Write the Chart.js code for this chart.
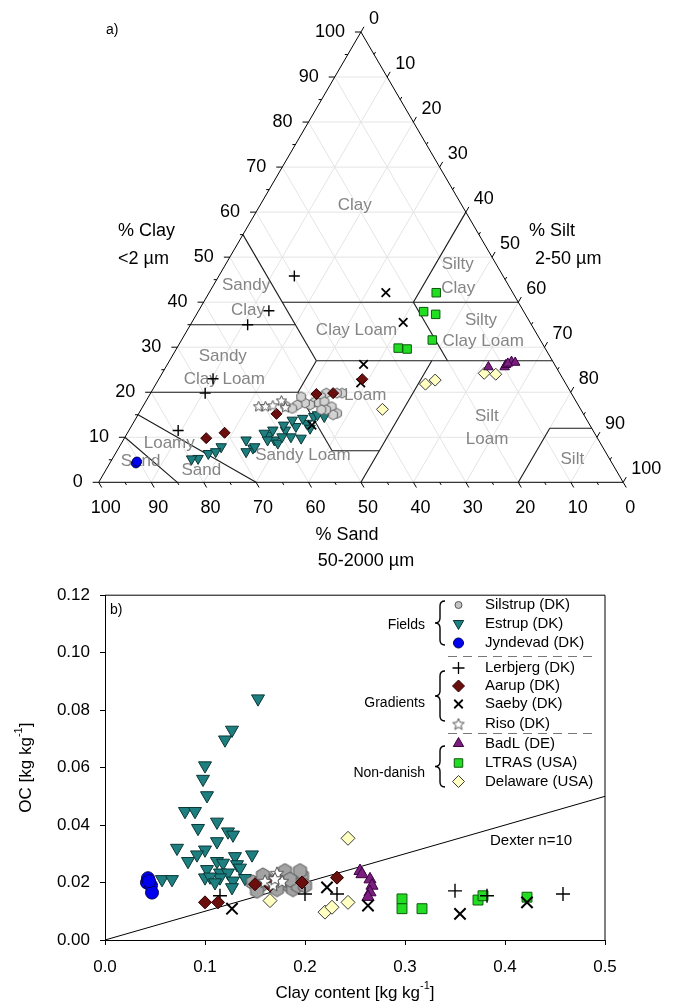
<!DOCTYPE html>
<html>
<head>
<meta charset="utf-8">
<script src="https://cdn.jsdelivr.net/npm/chart.js@4.4.1/dist/chart.umd.min.js"></script>
<style>
  html, body { margin: 0; padding: 0; background: #fff; }
  #wrap { position: relative; width: 675px; height: 1007px; }
  #ternary { position: absolute; left: 0; top: 0; }
  #ocChart { position: absolute; left: 0; top: 575px; }
</style>
</head>
<body>
<div id="wrap">
  <canvas id="ternary" width="675" height="575"></canvas>
  <canvas id="ocChart" width="675" height="432"></canvas>
</div>
<script>
const FONT = '"Liberation Sans", Arial, Helvetica, sans-serif';

// ---- texture triangle, [sand %, clay %] per sample ----
const silstrupTex = [[46.7,19.8],[48.1,19.0],[49.8,17.9],[51.1,17.2],[51.9,17.6],[53.5,17.2],[49.2,17.6],[48.0,17.9],[47.2,16.8],[46.9,15.3],[47.8,15.0],[48.6,16.1],[43.7,19.8],[44.7,19.8],[49.5,16.1],[55.9,17.0],[54.9,16.4],[51.9,19.0]];
const estrupTex = [[78.4,5.3],[79.7,5.2],[75.9,6.4],[72.7,7.9],[74.3,6.8],[67.2,9.4],[66.8,7.6],[68.5,6.8],[66.3,7.9],[62.3,10.5],[61.8,9.4],[61.5,8.7],[58.6,11.6],[58.3,10.1],[56.2,12.4],[56.5,9.8],[53.8,13.1],[53.7,12.0],[51.7,14.6],[54.0,14.2],[56.2,13.8],[58.4,12.7],[61.0,11.6],[63.0,10.9],[63.1,9.4],[60.0,10.1],[49.7,14.6],[50.8,15.0]];
const jyndevadTex = [[90.6,4.4],[90.8,4.2],[90.4,4.6]];
const lerbjergTex = [[39.8,45.8],[48.5,38.1],[54.1,35.0],[66.7,23.0],[69.8,19.8],[79.1,11.5]];
const aarupTex = [[74.6,9.8],[70.5,11.0],[58.5,15.2],[48.7,19.6],[45.4,19.8],[38.3,22.9]];
const saebyTex = [[24.2,42.1],[24.2,35.5],[36.4,26.2],[39.0,22.1],[53.0,12.7]];
const risoTex = [[61.0,17.0],[59.7,17.0],[58.2,17.2],[56.0,18.3],[56.0,16.8]];
const badlTex = [[12.9,25.6],[9.8,25.6],[9.3,26.1],[7.9,26.8],[7.3,26.6],[8.8,26.4]];
const ltrasTex = [[14.6,42.1],[19.1,37.9],[17.1,37.3],[20.6,31.6],[28.0,29.8],[26.4,29.6]];
const delawareTex = [[37.8,16.2],[26.8,21.8],[24.5,22.7],[14.4,24.2],[12.3,24.0]];

// ---- clay content vs organic carbon, [clay, OC] in kg/kg ----
const silstrupOC = [[0.148,0.0200],[0.155,0.0189],[0.162,0.0211],[0.177,0.0223],[0.182,0.0194],[0.188,0.0177],[0.197,0.0223],[0.193,0.0189],[0.152,0.0171],[0.172,0.0177],[0.200,0.0189],[0.180,0.0240],[0.195,0.0240],[0.165,0.0200],[0.185,0.0210],[0.158,0.0225]];
const estrupOC = [[0.153,0.0840],[0.127,0.0731],[0.120,0.0697],[0.100,0.0607],[0.098,0.0560],[0.102,0.0503],[0.080,0.0448],[0.090,0.0448],[0.093,0.0389],[0.112,0.0411],[0.123,0.0377],[0.128,0.0366],[0.112,0.0343],[0.072,0.0320],[0.100,0.0314],[0.092,0.0297],[0.083,0.0274],[0.147,0.0297],[0.130,0.0291],[0.112,0.0274],[0.118,0.0268],[0.132,0.0263],[0.135,0.0251],[0.102,0.0246],[0.115,0.0234],[0.123,0.0234],[0.100,0.0217],[0.115,0.0217],[0.128,0.0206],[0.127,0.0183],[0.057,0.0211],[0.067,0.0211],[0.145,0.0206],[0.105,0.0220],[0.110,0.0200],[0.140,0.0215]];
const jyndevadOC = [[0.043,0.0215],[0.042,0.0200],[0.046,0.0190],[0.047,0.0165],[0.044,0.0205]];
const lerbjergOC = [[0.115,0.0154],[0.200,0.0160],[0.232,0.0160],[0.350,0.0171],[0.382,0.0154],[0.458,0.0160]];
const aarupOC = [[0.100,0.0131],[0.113,0.0131],[0.150,0.0194],[0.197,0.0200],[0.232,0.0217],[0.165,0.0190]];
const saebyOC = [[0.127,0.0109],[0.222,0.0183],[0.263,0.0120],[0.355,0.0091],[0.422,0.0131]];
const risoOC = [[0.172,0.0234],[0.160,0.0206],[0.168,0.0194],[0.177,0.0206],[0.170,0.0215]];
const badlOC = [[0.255,0.0240],[0.257,0.0229],[0.265,0.0211],[0.267,0.0189],[0.265,0.0166],[0.263,0.0150]];
const ltrasOC = [[0.297,0.0143],[0.297,0.0109],[0.317,0.0109],[0.373,0.0139],[0.378,0.0154],[0.422,0.0149]];
const delawareOC = [[0.243,0.0354],[0.220,0.0097],[0.227,0.0114],[0.243,0.0131],[0.165,0.0137]];

// Dexter et al. saturation line, OC = clay / n
const dexterN = 10;
const dexterClay = [0, 0.5];

// USDA texture class boundaries, [sand, clay] end points
const classLines = [
  [[85,0],[90,10]], [[70,0],[85,15]], [[80,20],[52,20]], [[52,20],[52,7]],
  [[52,7],[43,7]], [[50,0],[23,27]], [[45,27],[0,27]], [[52,20],[45,27]],
  [[45,27],[45,55]], [[65,35],[45,35]], [[45,40],[0,40]], [[20,27],[20,40]],
  [[20,40],[0,60]], [[20,0],[8,12]], [[8,12],[0,12]]
];
// class names, placed at [sand, clay]
const classNames = [
  ["Clay", 20.4, 61.6], ["Silty", 7.4, 48.3], ["Clay", 9.9, 43.1], ["Sandy", 50.0, 43.8], ["Clay", 52.5, 38.1],
  ["Clay Loam", 34.0, 33.7], ["Silty", 9.1, 36.0], ["Clay Loam", 11.1, 31.2], ["Sandy", 62.4, 27.9], ["Clay Loam", 64.6, 22.9],
  ["Loam", 39.5, 19.4], ["Silt", 18.7, 14.6], ["Loam", 21.2, 9.5], ["Sandy Loam", 58.0, 6.1], ["Loamy", 82.2, 8.7],
  ["Sand", 79.1, 2.7], ["Sand", 89.7, 4.6], ["Silt", 7.2, 5.0]
];

// ---- marker shapes not built into Chart.js ----
function hexagon(size, fill, edge) {
  const c = document.createElement("canvas");
  c.width = c.height = size + 2;
  const g = c.getContext("2d");
  const r = size / 2, m = c.width / 2;
  g.beginPath();
  for (let i = 0; i < 6; i++) {
    const a = Math.PI / 3 * i + Math.PI / 6;
    g.lineTo(m + r * Math.cos(a), m + r * Math.sin(a));
  }
  g.closePath();
  g.fillStyle = fill; g.fill();
  g.strokeStyle = edge; g.lineWidth = 1; g.stroke();
  return c;
}
function star(size, fill, edge) {
  const c = document.createElement("canvas");
  c.width = c.height = size + 2;
  const g = c.getContext("2d");
  const R = size / 2, r = R * 0.45, m = c.width / 2;
  g.beginPath();
  for (let i = 0; i < 10; i++) {
    const a = -Math.PI / 2 + i * Math.PI / 5;
    const rr = i % 2 ? r : R;
    g.lineTo(m + rr * Math.cos(a), m + 1 + rr * Math.sin(a));
  }
  g.closePath();
  g.fillStyle = fill; g.fill();
  g.strokeStyle = edge; g.lineWidth = 1; g.stroke();
  return c;
}

const TEAL = "#1d7f7f", TEAL_EDGE = "#0b3636";
const RED = "#6a0e0e", RED_EDGE = "#2a0000";
const PURPLE = "#7b1f7e", PURPLE_EDGE = "#3a0040";
const GREEN = "#22dd22", GREEN_EDGE = "#0c5a0c";
const YELLOW = "#ffffc2", YELLOW_EDGE = "#3a3a3a";
const BLUE = "#0000f0", BLUE_EDGE = "#00005a";

const tern = ([sand, clay]) => ({ x: 100 - sand - clay / 2, y: clay });
const xy = ([clay, oc]) => ({ x: clay, y: oc });

function pointSet(label, rows, map, st) {
  return {
    label, data: rows.map(map), showLine: false, clip: false,
    pointStyle: st.shape, pointRotation: st.rot || 0, pointRadius: st.r,
    pointBackgroundColor: st.fill || "transparent", pointBorderColor: st.edge,
    pointBorderWidth: st.bw == null ? 1 : st.bw
  };
}
function lineSet(id, pts, color, width) {
  return {
    id, data: pts.map(tern), showLine: true, borderColor: color, borderWidth: width,
    pointRadius: 0, fill: false, tension: 0, clip: false
  };
}

// ---------- a) texture triangle ----------
const ternStyles = {
  silstrup: { shape: hexagon(10, "#d2d2d2", "#606060"), r: 5 },
  estrup: { shape: "triangle", rot: 180, r: 6, fill: TEAL, edge: TEAL_EDGE },
  jyndevad: { shape: "circle", r: 4.5, fill: BLUE, edge: BLUE_EDGE },
  lerbjerg: { shape: "cross", r: 5.5, edge: "#000", bw: 1.4 },
  aarup: { shape: "rectRot", r: 5.5, fill: RED, edge: RED_EDGE },
  saeby: { shape: "crossRot", r: 6, edge: "#000", bw: 1.8 },
  riso: { shape: star(11, "#ffffff", "#505050"), r: 6 },
  badl: { shape: "triangle", r: 5.5, fill: PURPLE, edge: PURPLE_EDGE },
  ltras: { shape: "rect", r: 6, fill: GREEN, edge: GREEN_EDGE },
  delaware: { shape: "rectRot", r: 6, fill: YELLOW, edge: YELLOW_EDGE }
};

const ternSets = [
  pointSet("Riso", risoTex, tern, ternStyles.riso),
  pointSet("Aarup", aarupTex, tern, ternStyles.aarup),
  pointSet("Saeby", saebyTex, tern, ternStyles.saeby),
  pointSet("Lerbjerg", lerbjergTex, tern, ternStyles.lerbjerg),
  pointSet("Silstrup", silstrupTex, tern, ternStyles.silstrup),
  pointSet("BadL", badlTex, tern, ternStyles.badl),
  pointSet("LTRAS", ltrasTex, tern, ternStyles.ltras),
  pointSet("Delaware", delawareTex, tern, ternStyles.delaware),
  pointSet("Estrup", estrupTex, tern, ternStyles.estrup),
  pointSet("Jyndevad", jyndevadTex, tern, ternStyles.jyndevad),
  lineSet("outline", [[100,0],[0,0],[0,100],[100,0]], "#000", 1)
];
classLines.forEach((seg, i) => ternSets.push(lineSet("class" + i, seg, "#1a1a1a", 1.1)));
for (let k = 10; k < 100; k += 10) {
  ternSets.push(lineSet("grid", [[100 - k, k], [0, k]], "#e4e4e4", 1));
  ternSets.push(lineSet("grid", [[k, 0], [k, 100 - k]], "#e4e4e4", 1));
  ternSets.push(lineSet("grid", [[100 - k, 0], [0, 100 - k]], "#e4e4e4", 1));
}

const ternaryDecor = {
  id: "ternaryDecor",
  afterDatasetDraw(chart, args) {
    // class names sit above the lines but under the samples
    if (chart.data.datasets[args.index].id !== "outline") return;
    const { ctx, scales: { x, y } } = chart;
    ctx.save();
    ctx.font = "17px " + FONT;
    ctx.fillStyle = "#858585";
    ctx.textAlign = "center";
    ctx.textBaseline = "middle";
    classNames.forEach(([txt, sand, clay]) => {
      const t = tern([sand, clay]);
      ctx.fillText(txt, x.getPixelForValue(t.x), y.getPixelForValue(t.y));
    });
    ctx.restore();
  },
  afterDraw(chart) {
    const { ctx, scales: { x, y } } = chart;
    const P = (sand, clay) => {
      const t = tern([sand, clay]);
      return [x.getPixelForValue(t.x), y.getPixelForValue(t.y)];
    };
    const unit = (a, b) => {
      const dx = b[0] - a[0], dy = b[1] - a[1], l = Math.hypot(dx, dy);
      return [dx / l, dy / l];
    };
    const siltDir = unit(P(100, 0), P(0, 100));
    const sandDir = unit(P(0, 100), P(0, 0));
    ctx.save();
    ctx.strokeStyle = "#000";
    ctx.lineWidth = 1;
    ctx.fillStyle = "#000";
    ctx.font = "18px " + FONT;
    ctx.textBaseline = "middle";
    for (let v = 0; v <= 100; v += 5) {
      const len = v % 10 ? 3 : 6;
      const c = P(100 - v, v);
      const s = P(0, 100 - v);
      const b = P(v, 0);
      ctx.beginPath();
      ctx.moveTo(c[0], c[1]); ctx.lineTo(c[0] - len, c[1]);
      ctx.moveTo(s[0], s[1]); ctx.lineTo(s[0] + siltDir[0] * len, s[1] + siltDir[1] * len);
      ctx.moveTo(b[0], b[1]); ctx.lineTo(b[0] + sandDir[0] * len, b[1] + sandDir[1] * len);
      ctx.stroke();
      if (v % 10) continue;
      ctx.textAlign = "right";
      ctx.fillText(String(v), c[0] - 16, c[1]);
      ctx.textAlign = "left";
      ctx.fillText(String(v), s[0] + 8, s[1] - 13);
      ctx.textAlign = "center";
      ctx.fillText(String(v), b[0] + 7, b[1] + 26);
    }
    ctx.textAlign = "left";
    ctx.fillText("% Clay", 118, 231);
    ctx.fillText("<2 \u00b5m", 118, 259);
    ctx.fillText("% Silt", 529, 231);
    ctx.fillText("2-50 \u00b5m", 535, 259);
    ctx.textAlign = "center";
    ctx.fillText("% Sand", 347, 535);
    ctx.fillText("50-2000 \u00b5m", 366, 561);
    ctx.font = "14px " + FONT;
    ctx.textAlign = "left";
    ctx.fillText("a)", 106, 30);
    ctx.restore();
  }
};

new Chart(document.getElementById("ternary"), {
  type: "scatter",
  data: { datasets: ternSets },
  options: {
    responsive: false,
    animation: false,
    events: [],
    layout: { padding: { left: 98.7, right: 51.8, top: 32, bottom: 92.7 } },
    scales: {
      x: { type: "linear", min: 0, max: 100, display: false },
      y: { type: "linear", min: 0, max: 100, display: false }
    },
    plugins: { legend: { display: false }, tooltip: { enabled: false } }
  },
  plugins: [ternaryDecor]
});

// ---------- b) organic carbon vs clay ----------
const ocStyles = {
  silstrup: { shape: hexagon(15, "#a3a3a3", "#555555"), r: 8 },
  estrup: { shape: "triangle", rot: 180, r: 7.5, fill: TEAL, edge: TEAL_EDGE },
  jyndevad: { shape: "circle", r: 6.5, fill: BLUE, edge: BLUE_EDGE },
  lerbjerg: { shape: "cross", r: 7, edge: "#000", bw: 1.4 },
  aarup: { shape: "rectRot", r: 6.5, fill: RED, edge: RED_EDGE },
  saeby: { shape: "crossRot", r: 8, edge: "#000", bw: 2 },
  riso: { shape: star(14, "#ffffff", "#505050"), r: 7 },
  badl: { shape: "triangle", r: 7, fill: PURPLE, edge: PURPLE_EDGE },
  ltras: { shape: "rect", r: 7, fill: GREEN, edge: GREEN_EDGE },
  delaware: { shape: "rectRot", r: 7, fill: YELLOW, edge: YELLOW_EDGE }
};

const legendRows = [
  ["Silstrup (DK)", { shape: "circle", r: 3.5, fill: "#c4c4c4", edge: "#555" }, 30],
  ["Estrup (DK)", { shape: "triangle", rot: 180, r: 6, fill: TEAL, edge: TEAL_EDGE }, 48.5],
  ["Jyndevad (DK)", { shape: "circle", r: 5, fill: BLUE, edge: BLUE_EDGE }, 68],
  ["Lerbjerg (DK)", { shape: "cross", r: 6, edge: "#000", bw: 1.3 }, 93],
  ["Aarup (DK)", { shape: "rectRot", r: 6, fill: RED, edge: RED_EDGE }, 111],
  ["Saeby (DK)", { shape: "crossRot", r: 6, edge: "#000", bw: 1.8 }, 129],
  ["Riso (DK)", { shape: star(12, "#ffffff", "#505050") }, 148.5],
  ["BadL (DE)", { shape: "triangle", r: 6, fill: PURPLE, edge: PURPLE_EDGE }, 168.5],
  ["LTRAS (USA)", { shape: "rect", r: 6, fill: GREEN, edge: GREEN_EDGE }, 188],
  ["Delaware (USA)", { shape: "rectRot", r: 6, fill: YELLOW, edge: YELLOW_EDGE }, 206.5]
];
const legendGroups = [["Fields", 50, 26, 70], ["Gradients", 128, 96, 146], ["Non-danish", 198, 171, 212]];
const legendRules = [81.5, 158.5];

function brace(ctx, x, top, bottom) {
  const mid = (top + bottom) / 2, w = 5;
  ctx.beginPath();
  ctx.moveTo(x + w, top);
  ctx.quadraticCurveTo(x, top, x, top + w);
  ctx.lineTo(x, mid - w);
  ctx.quadraticCurveTo(x, mid, x - w, mid);
  ctx.quadraticCurveTo(x, mid, x, mid + w);
  ctx.lineTo(x, bottom - w);
  ctx.quadraticCurveTo(x, bottom, x + w, bottom);
  ctx.stroke();
}

function unitTitle(ctx, main, cx, cy) {
  ctx.font = "17px " + FONT;
  const sup = "-1";
  const w1 = ctx.measureText(main).width;
  ctx.font = "11px " + FONT;
  const w2 = ctx.measureText(sup).width;
  ctx.font = "17px " + FONT;
  const w3 = ctx.measureText("]").width;
  let left = cx - (w1 + w2 + w3) / 2;
  ctx.textAlign = "left";
  ctx.fillText(main, left, cy);
  ctx.font = "11px " + FONT;
  ctx.fillText(sup, left + w1, cy - 7);
  ctx.font = "17px " + FONT;
  ctx.fillText("]", left + w1 + w2, cy);
}

const ocDecor = {
  id: "ocDecor",
  afterDraw(chart) {
    const { ctx, chartArea: a } = chart;
    ctx.save();
    ctx.strokeStyle = "#000";
    ctx.lineWidth = 1;
    ctx.beginPath();
    ctx.moveTo(a.left, a.top); ctx.lineTo(a.right, a.top); ctx.lineTo(a.right, a.bottom);
    ctx.stroke();

    ctx.fillStyle = "#000";
    ctx.textBaseline = "middle";
    ctx.font = "14px " + FONT;
    ctx.textAlign = "left";
    ctx.fillText("b)", a.left + 5, a.top + 15);
    ctx.font = "15px " + FONT;
    ctx.fillText("Dexter n=10", 490, 266);

    // legend
    ctx.setLineDash([9, 6]);
    ctx.strokeStyle = "#777";
    legendRules.forEach((ly) => {
      ctx.beginPath(); ctx.moveTo(448, ly); ctx.lineTo(592, ly); ctx.stroke();
    });
    ctx.setLineDash([]);
    legendRows.forEach(([txt, st, ly]) => {
      ctx.fillStyle = st.fill || "transparent";
      ctx.strokeStyle = st.edge || "#000";
      ctx.lineWidth = st.bw || 1;
      Chart.helpers.drawPoint(ctx, {
        pointStyle: st.shape, rotation: st.rot || 0, radius: st.r || 6,
        borderWidth: st.bw == null ? 1 : st.bw
      }, 458.5, ly);
      ctx.fillStyle = "#000";
      ctx.font = "15px " + FONT;
      ctx.textAlign = "left";
      ctx.fillText(txt, 485, ly);
    });
    ctx.strokeStyle = "#000";
    ctx.lineWidth = 1.4;
    ctx.font = "14px " + FONT;
    ctx.textAlign = "right";
    legendGroups.forEach(([txt, ly, top, bottom]) => {
      ctx.fillText(txt, 425, ly);
      brace(ctx, 440, top, bottom);
    });

    // axis titles
    ctx.fillStyle = "#000";
    ctx.textBaseline = "middle";
    unitTitle(ctx, "Clay content [kg kg", (a.left + a.right) / 2, 418);
    ctx.translate(26, (a.top + a.bottom) / 2);
    ctx.rotate(-Math.PI / 2);
    unitTitle(ctx, "OC [kg kg", 0, 0);
    ctx.restore();
  }
};

const tickFont = { family: FONT, size: 17 };
new Chart(document.getElementById("ocChart"), {
  type: "scatter",
  data: {
    datasets: [
      pointSet("Riso", risoOC, xy, ocStyles.riso),
      pointSet("Aarup", aarupOC, xy, ocStyles.aarup),
      pointSet("Saeby", saebyOC, xy, ocStyles.saeby),
      pointSet("Lerbjerg", lerbjergOC, xy, ocStyles.lerbjerg),
      pointSet("Delaware", delawareOC, xy, ocStyles.delaware),
      pointSet("Silstrup", silstrupOC, xy, ocStyles.silstrup),
      pointSet("BadL", badlOC, xy, ocStyles.badl),
      pointSet("LTRAS", ltrasOC, xy, ocStyles.ltras),
      pointSet("Estrup", estrupOC, xy, ocStyles.estrup),
      pointSet("Jyndevad", jyndevadOC, xy, ocStyles.jyndevad),
      {
        label: "Dexter n=10",
        data: dexterClay.map((c) => ({ x: c, y: c / dexterN })),
        showLine: true, borderColor: "#000", borderWidth: 1, pointRadius: 0, tension: 0
      }
    ]
  },
  options: {
    responsive: false,
    animation: false,
    events: [],
    layout: { padding: { left: 0, right: 70, top: 15, bottom: 0 } },
    scales: {
      x: {
        type: "linear", min: 0, max: 0.5,
        afterFit: (s) => { s.height = 67; },
        ticks: { stepSize: 0.1, color: "#000", font: tickFont, padding: 12, callback: (v) => v.toFixed(1) },
        grid: { drawOnChartArea: false, drawTicks: true, tickLength: 5, color: "#000" },
        border: { color: "#000", width: 1 }
      },
      y: {
        type: "linear", min: 0, max: 0.12,
        afterFit: (s) => { s.width = 105; },
        ticks: { stepSize: 0.02, color: "#000", font: tickFont, padding: 10, callback: (v) => v.toFixed(2) },
        grid: { drawOnChartArea: false, drawTicks: true, tickLength: 5, color: "#000" },
        border: { color: "#000", width: 1 }
      }
    },
    plugins: { legend: { display: false }, tooltip: { enabled: false } }
  },
  plugins: [ocDecor]
});
</script>
</body>
</html>
